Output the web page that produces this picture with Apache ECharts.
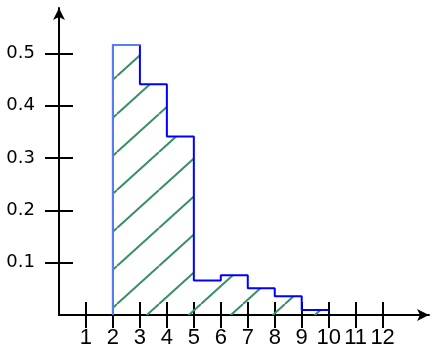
<!DOCTYPE html>
<html>
<head>
<meta charset="utf-8">
<script src="https://cdn.jsdelivr.net/npm/echarts@6/dist/echarts.min.js"></script>
<style>html,body{margin:0;padding:0;background:#fff}#c{width:439px;height:357px}</style>
</head>
<body>
<div id="c"></div>
<script>
// Data
var binEdges = [2, 3, 4, 5, 6, 7, 8, 9, 10];
var binHeights = [0.516, 0.441, 0.341, 0.066, 0.076, 0.051, 0.036, 0.0096];
var xTickValues = [1, 2, 3, 4, 5, 6, 7, 8, 9, 10, 11, 12];
var yTickValues = [0.1, 0.2, 0.3, 0.4, 0.5];

// step outline points
var stepData = [[binEdges[0], 0]];
for (var i = 0; i < binHeights.length; i++) stepData.push([binEdges[i], binHeights[i]]);
stepData.push([binEdges[binEdges.length - 1], binHeights[binHeights.length - 1]]);
var firstEdge = [[binEdges[0], 0], [binEdges[0], binHeights[0]], [binEdges[1], binHeights[0]]];

// hatch pattern tile
var TW = 42, TH = 38, PH = 0.786;
var tile = document.createElement('canvas');
tile.width = TW; tile.height = TH;
var ctx = tile.getContext('2d');
ctx.strokeStyle = '#3a8f64';
ctx.lineWidth = 2;
for (var n = -1; n <= 2; n++) {
  ctx.beginPath();
  ctx.moveTo(TW * (PH + n), 0);
  ctx.lineTo(TW * (PH + n - 1), TH);
  ctx.stroke();
}

var chart = echarts.init(document.getElementById('c'), null, {renderer: 'canvas'});
var tickStyle = {color: '#000', width: 2};
chart.setOption({
  animation: false,
  backgroundColor: '#fff',
  grid: {left: 59, right: 10, top: 8, bottom: 42, outerBoundsMode: 'none'},
  xAxis: [{
    type: 'value', min: 0, max: 13.72, position: 'bottom',
    axisLine: {show: true, lineStyle: {color: '#000', width: 2}, symbol: ['none', 'arrow'], symbolSize: [9, 12]},
    axisTick: {show: true, inside: false, length: 13, lineStyle: tickStyle, customValues: xTickValues},
    axisLabel: {show: true, customValues: xTickValues, margin: 12, color: '#000', fontSize: 22,
      fontFamily: '"Liberation Sans", Arial, sans-serif'},
    splitLine: {show: false}
  }, {
    type: 'value', min: 0, max: 13.72, position: 'bottom',
    axisLine: {show: false},
    axisTick: {show: true, inside: true, length: 13, lineStyle: tickStyle, customValues: xTickValues},
    axisLabel: {show: false},
    splitLine: {show: false}
  }],
  yAxis: [{
    type: 'value', min: 0, max: 0.5866, position: 'left',
    axisLine: {show: true, lineStyle: {color: '#000', width: 2}, symbol: ['none', 'arrow'], symbolSize: [9, 12]},
    axisTick: {show: true, inside: false, length: 14, lineStyle: tickStyle, customValues: yTickValues},
    axisLabel: {show: true, customValues: yTickValues, margin: 24, color: '#000', fontSize: 18,
      fontFamily: '"DejaVu Sans", sans-serif'},
    splitLine: {show: false}
  }, {
    type: 'value', min: 0, max: 0.5866, position: 'left',
    axisLine: {show: false},
    axisTick: {show: true, inside: true, length: 14, lineStyle: tickStyle, customValues: yTickValues},
    axisLabel: {show: false},
    splitLine: {show: false}
  }],
  series: [{
    type: 'line', step: 'end', data: stepData, symbol: 'none', xAxisIndex: 0, yAxisIndex: 0,
    lineStyle: {color: '#0000ff', width: 2},
    areaStyle: {color: {image: tile, repeat: 'repeat'}, opacity: 1},
    z: 3
  }, {
    type: 'line', data: firstEdge, symbol: 'none', xAxisIndex: 0, yAxisIndex: 0,
    lineStyle: {color: '#5580f2', width: 2},
    z: 4
  }]
});
</script>
</body>
</html>
